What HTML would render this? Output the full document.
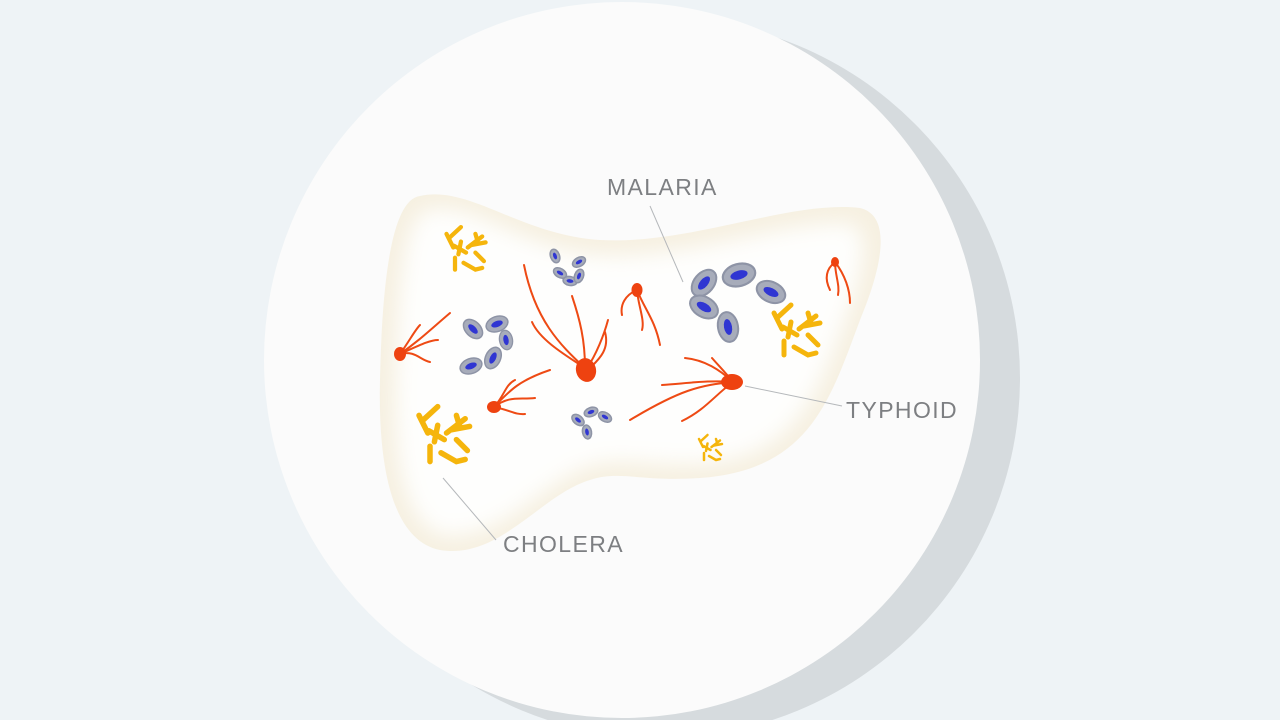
<!DOCTYPE html>
<html><head><meta charset="utf-8"><style>
html,body{margin:0;padding:0;background:#eef3f6;}
svg{display:block}
text{font-family:"Liberation Sans",sans-serif;fill:#7d7f82;font-size:23px;letter-spacing:1.4px;}
</style></head><body>
<svg width="1280" height="720" viewBox="0 0 1280 720">
<defs>
<filter id="bl" x="-20%" y="-20%" width="140%" height="140%"><feGaussianBlur stdDeviation="10"/></filter>
<g id="ch" stroke="#f5b50c" stroke-width="5" stroke-linecap="round" fill="none">
<path d="M14,18 L27,6"/><path d="M10,14 L18,30"/><path d="M19,28 L33,36"/><path d="M27,23 L24,38"/><path d="M35,30 L52,17"/><path d="M44,14 L47,24"/><path d="M40,27 L56,24"/><path d="M20,42 L20,56"/><path d="M30,48 L44,56 L52,54"/><path d="M44,36 L54,46"/>
</g>
<g id="cell"><ellipse rx="15" ry="10" fill="#a7acba" stroke="#8e94a6" stroke-width="2"/><ellipse rx="8" ry="4" fill="#3036d2"/></g>
<g id="sc"><ellipse rx="7" ry="4.5" fill="#a7acba" stroke="#8e94a6" stroke-width="1.5"/><ellipse rx="3.5" ry="1.8" fill="#3036d2"/></g>
</defs>
<circle cx="660" cy="378" r="360" fill="#d6dbde"/>
<circle cx="622" cy="360" r="358" fill="#fbfbfb"/>
<path d="M420,196 C470,185 520,235 600,240 C690,245 790,200 860,208 C890,215 885,260 860,320 C830,400 810,470 700,478 C640,482 620,470 590,480 C540,495 500,560 440,550 C390,540 378,460 380,380 C382,290 390,200 420,196 Z" fill="#f6f0e1"/>
<path d="M428,210 C475,200 520,250 600,255 C690,260 790,218 852,224 C870,236 864,268 846,318 C818,390 798,458 700,464 C640,466 620,456 590,466 C545,480 505,538 446,536 C402,526 394,455 396,380 C398,298 402,216 428,210 Z" fill="#fefefd" filter="url(#bl)"/>
<!-- leader lines -->
<g stroke="#b5b8bb" stroke-width="1" fill="none">
<line x1="650" y1="206" x2="683" y2="282"/>
<line x1="745" y1="386" x2="842" y2="406"/>
<line x1="443" y1="478" x2="496" y2="540"/>
</g>
<text x="607" y="195">MALARIA</text>
<text x="846" y="418">TYPHOID</text>
<text x="503" y="552">CHOLERA</text>
<!-- cholera -->
<use href="#ch" transform="translate(438,222) scale(0.85)"/>
<use href="#ch" transform="translate(408,400) scale(1.1)"/>
<use href="#ch" transform="translate(764,299) scale(1.0)"/>
<use href="#ch" transform="translate(694,432) scale(0.5)"/>
<!-- malaria cells -->
<use href="#cell" transform="translate(704,283) rotate(-50)"/>
<use href="#cell" transform="translate(739,275) rotate(-15) scale(1.1)"/>
<use href="#cell" transform="translate(771,292) rotate(25)"/>
<use href="#cell" transform="translate(704,307) rotate(30)"/>
<use href="#cell" transform="translate(728,327) rotate(80)"/>
<use href="#cell" transform="translate(473,329) rotate(45) scale(0.75)"/>
<use href="#cell" transform="translate(497,324) rotate(-20) scale(0.75)"/>
<use href="#cell" transform="translate(506,340) rotate(80) scale(0.65)"/>
<use href="#cell" transform="translate(471,366) rotate(-20) scale(0.75)"/>
<use href="#cell" transform="translate(493,358) rotate(-65) scale(0.75)"/>
<use href="#sc" transform="translate(555,256) rotate(70)"/>
<use href="#sc" transform="translate(579,262) rotate(-30)"/>
<use href="#sc" transform="translate(560,273) rotate(30)"/>
<use href="#sc" transform="translate(570,281) rotate(10)"/>
<use href="#sc" transform="translate(579,276) rotate(-70)"/>
<use href="#sc" transform="translate(578,420) rotate(40)"/>
<use href="#sc" transform="translate(591,412) rotate(-20)"/>
<use href="#sc" transform="translate(605,417) rotate(30)"/>
<use href="#sc" transform="translate(587,432) rotate(80)"/>
<!-- typhoid -->
<g fill="none" stroke="#ee4a14" stroke-width="2" stroke-linecap="round">
<path d="M585,368 C560,345 535,320 524,265"/>
<path d="M585,368 C565,355 540,340 532,322"/>
<path d="M585,368 C585,340 580,320 572,296"/>
<path d="M587,368 C596,355 604,335 608,320"/>
<path d="M590,368 C598,360 610,350 605,332"/>
<path d="M637,290 C625,295 620,305 622,315"/>
<path d="M637,290 C645,310 655,320 660,345"/>
<path d="M637,290 C638,305 645,320 642,330"/>
<path d="M400,354 C420,340 430,330 450,313"/>
<path d="M400,354 C420,345 430,340 438,340"/>
<path d="M400,354 C415,350 420,360 430,362"/>
<path d="M400,354 C410,340 415,330 420,325"/>
<path d="M494,407 C510,390 520,380 550,370"/>
<path d="M494,407 C510,395 520,400 535,398"/>
<path d="M494,407 C510,410 515,415 525,414"/>
<path d="M494,407 C505,395 505,385 515,380"/>
<path d="M733,382 C700,385 680,390 630,420"/>
<path d="M733,382 C710,380 690,383 662,385"/>
<path d="M733,382 C715,395 705,410 682,421"/>
<path d="M733,382 C720,370 705,360 685,358"/>
<path d="M733,382 C725,372 718,365 712,358"/>
<path d="M835,262 C825,270 825,280 830,290"/>
<path d="M835,262 C845,275 850,290 850,303"/>
<path d="M835,262 C835,275 840,285 838,295"/>
</g>
<g fill="#ee4210">
<ellipse cx="586" cy="370" rx="10" ry="12" transform="rotate(-15 586 370)"/>
<ellipse cx="637" cy="290" rx="5.5" ry="7"/>
<ellipse cx="400" cy="354" rx="6" ry="7"/>
<ellipse cx="494" cy="407" rx="7" ry="6"/>
<ellipse cx="732" cy="382" rx="11" ry="8"/>
<ellipse cx="835" cy="262" rx="4" ry="5"/>
</g>
</svg>
</body></html>
